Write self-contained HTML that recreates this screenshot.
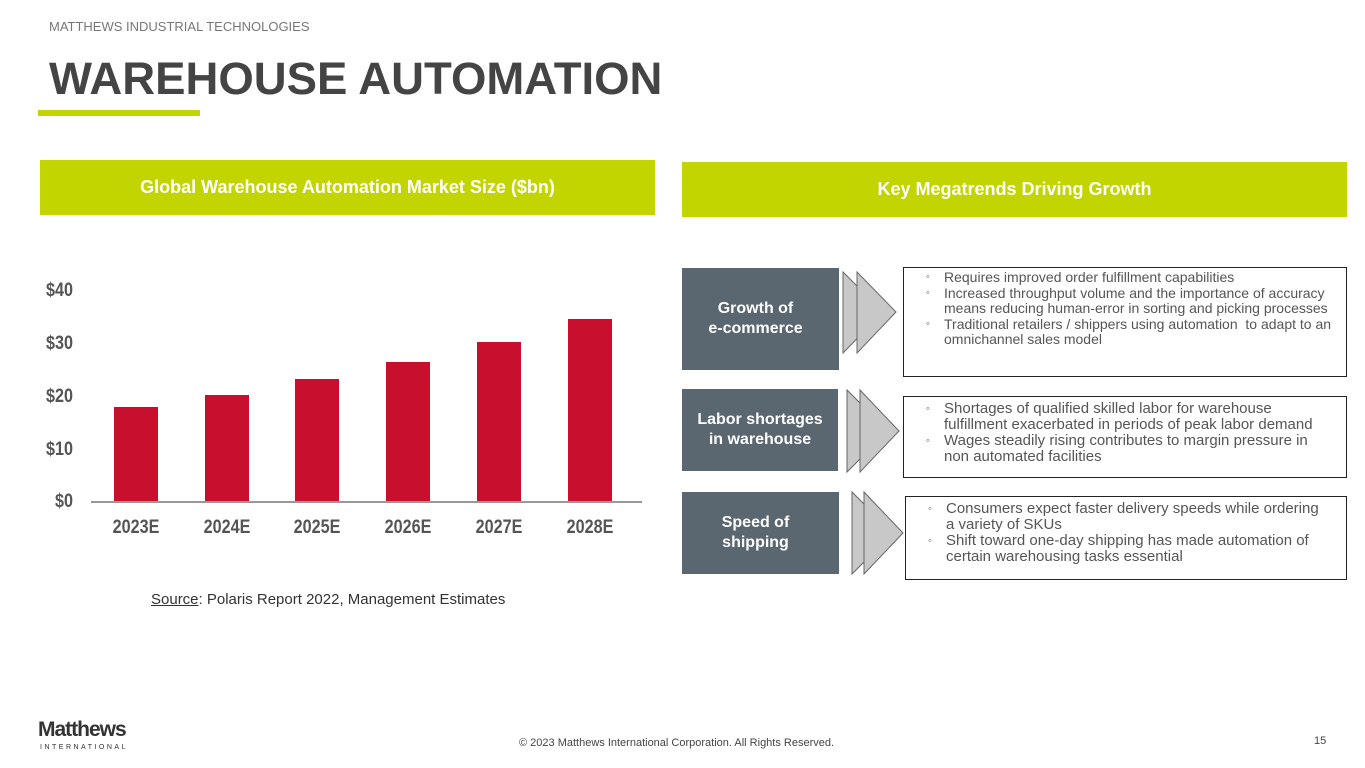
<!DOCTYPE html>
<html><head><meta charset="utf-8"><style>
*{margin:0;padding:0;box-sizing:border-box}
body{width:1365px;height:768px;background:#fff;position:relative;overflow:hidden;font-family:"Liberation Sans",sans-serif}
.a{position:absolute}
.yl{position:absolute;left:40px;width:33px;text-align:right;font-weight:bold;font-size:19px;color:#555;transform:scaleX(.85);transform-origin:right center}
.xl{position:absolute;top:517px;width:90px;text-align:center;font-weight:bold;font-size:19px;color:#555;transform:scaleX(.85)}
.bar{position:absolute;background:#c8102e;width:44px}
.lab{position:absolute;left:682px;background:#5a6670;color:#fff;font-weight:bold;font-size:16px;line-height:20px;display:flex;align-items:center;justify-content:center;text-align:center}
.box{position:absolute;left:903px;width:444px;border:1.5px solid #222;font-size:14px;line-height:15.5px;color:#555;padding:2px 6px 0 40px}
.box div{position:relative}
.box div:before{content:"◦";position:absolute;left:-18px;font-size:11px}
</style></head><body>
<div class="a" style="left:49px;top:19px;font-size:13px;color:#777">MATTHEWS INDUSTRIAL TECHNOLOGIES</div>
<div class="a" style="left:49px;top:53px;font-size:45.5px;font-weight:bold;color:#444">WAREHOUSE AUTOMATION</div>
<div class="a" style="left:38px;top:110px;width:162px;height:6px;background:#c2d500"></div>
<div class="a" style="left:40px;top:160px;width:615px;height:55px;background:#c2d500;color:#fff;font-weight:bold;font-size:18px;display:flex;align-items:center;justify-content:center">Global Warehouse Automation Market Size ($bn)</div>
<div class="a" style="left:682px;top:162px;width:665px;height:55px;background:#c2d500;color:#fff;font-weight:bold;font-size:18px;display:flex;align-items:center;justify-content:center">Key Megatrends Driving Growth</div>

<div class="yl" style="top:280px">$40</div>
<div class="yl" style="top:333px">$30</div>
<div class="yl" style="top:386px">$20</div>
<div class="yl" style="top:439px">$10</div>
<div class="yl" style="top:491px">$0</div>
<div class="bar" style="left:114px;top:407px;height:95px"></div>
<div class="bar" style="left:205px;top:395px;height:107px"></div>
<div class="bar" style="left:295px;top:379px;height:123px"></div>
<div class="bar" style="left:386px;top:362px;height:140px"></div>
<div class="bar" style="left:477px;top:342px;height:160px"></div>
<div class="bar" style="left:568px;top:319px;height:183px"></div>
<div class="a" style="left:91px;top:501px;width:551px;height:2px;background:#999"></div>
<div class="xl" style="left:91px">2023E</div>
<div class="xl" style="left:182px">2024E</div>
<div class="xl" style="left:272px">2025E</div>
<div class="xl" style="left:363px">2026E</div>
<div class="xl" style="left:454px">2027E</div>
<div class="xl" style="left:545px">2028E</div>
<div class="a" style="left:151px;top:591px;font-size:15px;color:#333"><u>Source</u>: Polaris Report 2022, Management Estimates</div>

<div class="lab" style="top:268px;width:157px;height:102px;padding-right:10px">Growth of<br>e-commerce</div>
<div class="lab" style="top:389px;width:156px;height:82px">Labor shortages<br>in warehouse</div>
<div class="lab" style="top:492px;width:157px;height:82px;padding-right:10px">Speed of<br>shipping</div>
<svg class="a" style="left:0;top:0" width="1365" height="768">
<g fill="#c8c8c8" stroke="#666" stroke-width="1">
<polygon points="843,272 883,312 843,353"/>
<polygon points="857,272 896,312 857,353"/>
<polygon points="847,390 888,431 847,472"/>
<polygon points="860,390 899,431 860,472"/>
<polygon points="852,492 893,533 852,574"/>
<polygon points="864,492 903,533 864,574"/>
</g></svg>
<div class="box" style="top:267px;height:110px"><div>Requires improved order fulfillment capabilities</div><div>Increased throughput volume and the importance of accuracy means reducing human-error in sorting and picking processes</div><div>Traditional retailers / shippers using automation &nbsp;to adapt to an omnichannel sales model</div></div>
<div class="box" style="top:396px;height:82px;font-size:15px;line-height:16px;padding-top:4px;padding-right:18px"><div>Shortages of qualified skilled labor for warehouse fulfillment exacerbated in periods of peak labor demand</div><div>Wages steadily rising contributes to margin pressure in non automated facilities</div></div>
<div class="box" style="left:905px;top:496px;width:442px;height:84px;font-size:15px;line-height:16px;padding-top:4px;padding-right:16px"><div>Consumers expect faster delivery speeds while ordering a variety of SKUs</div><div>Shift toward one-day shipping has made automation of certain warehousing tasks essential</div></div>

<div class="a" style="left:38px;top:718px;font-size:21px;font-weight:bold;color:#333;letter-spacing:-1px">Matthews</div>
<div class="a" style="left:40px;top:744px;font-size:7px;color:#333;letter-spacing:2.5px">INTERNATIONAL</div>
<div class="a" style="left:519px;top:737px;font-size:11px;color:#444">© 2023 Matthews International Corporation. All Rights Reserved.</div>
<div class="a" style="left:1314px;top:735px;font-size:11px;color:#444">15</div>
</body></html>
